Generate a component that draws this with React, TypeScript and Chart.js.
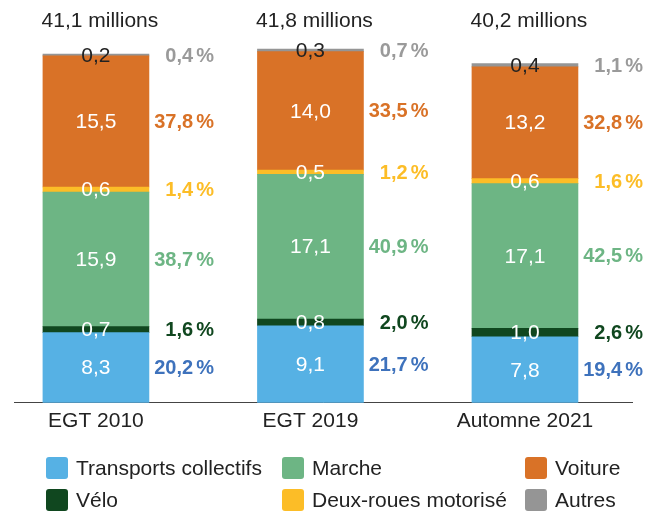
import React, { useEffect, useRef } from "react";
import { Chart, registerables } from "chart.js";

Chart.register(...registerables);

const categories = ["EGT 2010", "EGT 2019", "Automne 2021"];
const totals = [41.1, 41.8, 40.2];

const seriesNames = [
  "Transports collectifs",
  "Vélo",
  "Marche",
  "Deux-roues motorisé",
  "Voiture",
  "Autres",
];

const transports = [8.3, 9.1, 7.8];
const velo = [0.7, 0.8, 1.0];
const marche = [15.9, 17.1, 17.1];
const deuxRoues = [0.6, 0.5, 0.6];
const voiture = [15.5, 14.0, 13.2];
const autres = [0.2, 0.3, 0.4];

const pctTransports = [20.2, 21.7, 19.4];
const pctVelo = [1.6, 2.0, 2.6];
const pctMarche = [38.7, 40.9, 42.5];
const pctDeuxRoues = [1.4, 1.2, 1.6];
const pctVoiture = [37.8, 33.5, 32.8];
const pctAutres = [0.4, 0.7, 1.1];

const seriesValues = [transports, velo, marche, deuxRoues, voiture, autres];
const seriesPcts = [pctTransports, pctVelo, pctMarche, pctDeuxRoues, pctVoiture, pctAutres];

const barColors = ["#56B1E4", "#10471F", "#6DB584", "#FCBD27", "#D97227", "#959595"];
const pctColors = ["#3E72BC", "#10471F", "#6DB584", "#FCBD27", "#D97227", "#9A9A9A"];
const valueColors = ["#FFFFFF", "#FFFFFF", "#FFFFFF", "#FFFFFF", "#FFFFFF", "#222222"];

// legend grid: [series index, column, row]
const legendLayout = [
  [0, 0, 0],
  [2, 1, 0],
  [4, 2, 0],
  [1, 0, 1],
  [3, 1, 1],
  [5, 2, 1],
];
const legendColX = [46, 282, 525];
const legendRowY = [468, 500];

const FONT = "'Liberation Sans', Arial, Helvetica, sans-serif";
const fmt = (v: number) => v.toFixed(1).replace(".", ",");

const labelsPlugin = {
  id: "customLabels",
  afterDatasetsDraw(chart: any) {
    const ctx = chart.ctx;
    ctx.save();
    chart.data.datasets.forEach((ds: any, di: number) => {
      const meta = chart.getDatasetMeta(di);
      meta.data.forEach((el: any, i: number) => {
        const { x, y, base, width } = el.getProps(["x", "y", "base", "width"], true);
        const cy = (y + base) / 2;
        ctx.textBaseline = "middle";
        ctx.textAlign = "center";
        ctx.font = `21px ${FONT}`;
        ctx.fillStyle = valueColors[di];
        ctx.fillText(fmt(seriesValues[di][i]), x, cy + 1);

        ctx.font = `bold 20px ${FONT}`;
        ctx.fillStyle = pctColors[di];
        ctx.textAlign = "right";
        const right = x + width / 2 + 65;
        const pw = ctx.measureText("%").width;
        ctx.fillText("%", right, cy + 1);
        ctx.fillText(fmt(seriesPcts[di][i]), right - pw - 3, cy + 1);
      });
    });

    // totals above bars
    const meta0 = chart.getDatasetMeta(0);
    ctx.font = `21px ${FONT}`;
    ctx.fillStyle = "#222222";
    ctx.textAlign = "center";
    ctx.textBaseline = "alphabetic";
    meta0.data.forEach((el: any, i: number) => {
      ctx.fillText(`${fmt(totals[i])} millions`, el.x + 4, 27);
    });

    // legend
    legendLayout.forEach(([si, col, row]) => {
      const bx = legendColX[col];
      const cy = legendRowY[row];
      ctx.fillStyle = barColors[si];
      ctx.beginPath();
      if ((ctx as any).roundRect) {
        (ctx as any).roundRect(bx, cy - 11, 22, 22, 3);
      } else {
        ctx.rect(bx, cy - 11, 22, 22);
      }
      ctx.fill();
      ctx.fillStyle = "#222222";
      ctx.font = `21px ${FONT}`;
      ctx.textAlign = "left";
      ctx.textBaseline = "middle";
      ctx.fillText(seriesNames[si], bx + 30, cy + 1);
    });
    ctx.restore();
  },
};

export default function App() {
  const ref = useRef<HTMLCanvasElement | null>(null);

  useEffect(() => {
    document.body.style.margin = "0";
    const canvas = ref.current;
    if (!canvas) return;
    const chart = new Chart(canvas, {
      type: "bar",
      data: {
        datasets: seriesNames.map((name, si) => ({
          label: name,
          data: seriesValues[si].map((v, i) => ({ x: i, y: v })),
          backgroundColor: barColors[si],
          borderWidth: 0,
          barThickness: 106,
        })),
      },
      options: {
        animation: false,
        responsive: false,
        layout: { padding: { left: 14, right: 15, top: 22, bottom: 73 } },
        plugins: {
          legend: { display: false },
          tooltip: { enabled: false },
        },
        scales: {
          x: {
            type: "linear",
            stacked: true,
            offset: false,
            min: -0.382,
            max: 2.499,
            grid: { display: false, drawTicks: false, offset: false },
            border: { display: true, color: "#444444", width: 1 },
            afterBuildTicks: (scale: any) => {
              scale.ticks = categories.map((_, i) => ({ value: i }));
            },
            ticks: {
              autoSkip: false,
              maxRotation: 0,
              padding: 6,
              color: "#222222",
              font: { size: 21, family: FONT },
              callback: (v: any) => categories[Math.round(Number(v))] ?? "",
            },
          },
          y: {
            stacked: true,
            min: 0,
            max: 45,
            display: false,
          },
        },
      } as any,
      plugins: [labelsPlugin],
    });
    return () => chart.destroy();
  }, []);

  return (
    <div style={{ width: 647, height: 513, background: "#ffffff" }}>
      <canvas ref={ref} width={647} height={513} style={{ display: "block" }} />
    </div>
  );
}
